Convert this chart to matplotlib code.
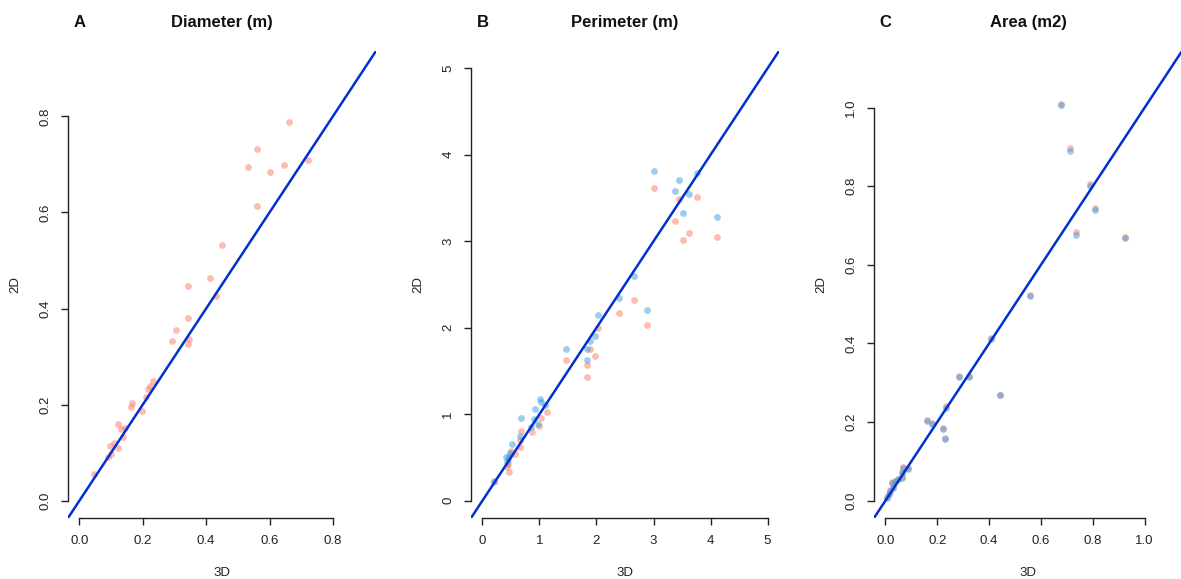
import matplotlib
matplotlib.use("Agg")
import matplotlib.pyplot as plt

plt.rcParams['font.family'] = ['Liberation Sans', 'DejaVu Sans']

# Panel A - diameter (m)
diam_3d = [0.663, 0.560, 0.533, 0.647, 0.602, 0.721, 0.560, 0.450, 0.411, 0.342, 0.432,
           0.344, 0.306, 0.291, 0.346, 0.344, 0.232, 0.224, 0.218, 0.211, 0.165, 0.163,
           0.197, 0.121, 0.132, 0.144, 0.137, 0.108, 0.098, 0.123, 0.100, 0.089, 0.047]
diam_2d = [0.788, 0.732, 0.695, 0.699, 0.685, 0.710, 0.614, 0.532, 0.464, 0.446, 0.427,
           0.380, 0.355, 0.333, 0.337, 0.326, 0.250, 0.238, 0.232, 0.215, 0.203, 0.196,
           0.187, 0.159, 0.149, 0.152, 0.132, 0.120, 0.114, 0.109, 0.097, 0.092, 0.056]

# Panel B - perimeter (m), two series
perim_blue_3d = [3.00, 3.44, 3.76, 3.38, 3.63, 3.52, 4.11, 2.65, 2.39, 2.89, 2.02, 1.98,
                 1.88, 1.83, 1.84, 1.46, 1.015, 1.03, 1.10, 0.93, 0.68, 0.90, 0.97, 0.86,
                 0.665, 0.52, 0.47, 0.45, 0.43, 0.42, 0.48, 0.20]
perim_blue_2d = [3.81, 3.71, 3.79, 3.58, 3.55, 3.33, 3.28, 2.60, 2.34, 2.20, 2.15, 1.90,
                 1.85, 1.75, 1.63, 1.75, 1.175, 1.14, 1.11, 1.06, 0.96, 0.94, 0.89, 0.855,
                 0.75, 0.66, 0.52, 0.48, 0.45, 0.50, 0.55, 0.23]
perim_red_3d = [3.00, 3.44, 3.76, 3.38, 3.63, 3.52, 4.11, 2.65, 2.39, 2.89, 2.02, 1.98,
                1.88, 1.84, 1.84, 1.46, 1.13, 1.03, 0.99, 0.87, 0.68, 0.66, 0.665, 0.58,
                0.50, 0.43, 0.46, 0.44, 0.20]
perim_red_2d = [3.62, 3.49, 3.51, 3.23, 3.09, 3.02, 3.05, 2.32, 2.17, 2.03, 2.00, 1.67,
                1.75, 1.57, 1.43, 1.63, 1.03, 0.96, 0.86, 0.80, 0.81, 0.70, 0.62, 0.54,
                0.58, 0.39, 0.33, 0.42, 0.22]

# Panel C - area (m2), two nearly identical series
area_3d = [0.678, 0.711, 0.788, 0.809, 0.734, 0.924, 0.558, 0.407, 0.284, 0.321, 0.442,
           0.234, 0.161, 0.181, 0.222, 0.229, 0.005, 0.012, 0.018, 0.024, 0.030, 0.036,
           0.050, 0.063, 0.063, 0.069, 0.089]
area_red_2d = [1.010, 0.897, 0.806, 0.744, 0.683, 0.670, 0.524, 0.413, 0.316, 0.316, 0.270,
               0.241, 0.206, 0.198, 0.185, 0.160, 0.010, 0.018, 0.026, 0.048, 0.035, 0.050,
               0.056, 0.060, 0.073, 0.086, 0.083]
area_blue_2d = [1.006, 0.890, 0.801, 0.739, 0.676, 0.668, 0.520, 0.411, 0.314, 0.314, 0.268,
                0.237, 0.203, 0.195, 0.183, 0.158, 0.008, 0.016, 0.024, 0.046, 0.033, 0.048,
                0.054, 0.058, 0.071, 0.084, 0.081]

red = '#FA7A62'
blue = '#3A9BE0'
line_col = '#0030D0'

fig = plt.figure(figsize=(11.81, 5.79), dpi=100)

panels = [
    ('A', 'Diameter (m)', 0.9, [0.0, 0.2, 0.4, 0.6, 0.8], ['0.0', '0.2', '0.4', '0.6', '0.8']),
    ('B', 'Perimeter (m)', 5.0, [0, 1, 2, 3, 4, 5], ['0', '1', '2', '3', '4', '5']),
    ('C', 'Area (m2)', 1.1, [0.0, 0.2, 0.4, 0.6, 0.8, 1.0], ['0.0', '0.2', '0.4', '0.6', '0.8', '1.0']),
]
lefts = [68 / 1181, 471 / 1181, 874 / 1181]

axes = []
for i, (letter, title, top, ticks, labels) in enumerate(panels):
    ax = fig.add_axes([lefts[i], 61 / 579, 308 / 1181, 467 / 579])
    pad = 0.04 * top
    ax.set_xlim(-pad, top + pad)
    ax.set_ylim(-pad, top + pad)
    for s in ['top', 'right']:
        ax.spines[s].set_visible(False)
    ax.spines['left'].set_bounds(ticks[0], ticks[-1])
    ax.spines['bottom'].set_bounds(ticks[0], ticks[-1])
    for s in ['left', 'bottom']:
        ax.spines[s].set_linewidth(1.0)
        ax.spines[s].set_color('#222222')
    ax.set_xticks(ticks)
    ax.set_xticklabels(labels)
    ax.set_yticks(ticks)
    ax.set_yticklabels(labels, rotation=90, va='center')
    ax.tick_params(direction='out', length=5, width=1.0, pad=7, labelsize=9.5,
                   color='#222222', labelcolor='#222222')
    ax.text(0.5, -0.118, '3D', transform=ax.transAxes, ha='center', va='center',
            fontsize=9.5, color='#222222')
    ax.text(-0.172, 0.5, '2D', transform=ax.transAxes, ha='center', va='center',
            rotation=90, fontsize=9.5, color='#222222')
    ax.text(0.5, 1.06, title, transform=ax.transAxes, ha='center', va='center',
            fontsize=12, fontweight='bold', color='#111111')
    ax.text(0.0, 1.06, letter, transform=ax.get_xaxis_transform(), ha='center', va='center',
            fontsize=12, fontweight='bold', color='#111111')
    axes.append(ax)

ms = 24
axes[0].scatter(diam_3d, diam_2d, s=ms, color=red, alpha=0.5, linewidths=0, zorder=2)

axes[1].scatter(perim_red_3d, perim_red_2d, s=ms, color=red, alpha=0.5, linewidths=0, zorder=2)
axes[1].scatter(perim_blue_3d, perim_blue_2d, s=ms, color=blue, alpha=0.5, linewidths=0, zorder=2)

axes[2].scatter(area_3d, area_red_2d, s=ms, color=red, alpha=0.5, linewidths=0, zorder=2)
axes[2].scatter(area_3d, area_blue_2d, s=ms, color=blue, alpha=0.5, linewidths=0, zorder=2)

for ax in axes:
    ax.axline((0, 0), slope=1, color=line_col, lw=1.8, zorder=3)

fig.savefig('out.png', dpi=100)
